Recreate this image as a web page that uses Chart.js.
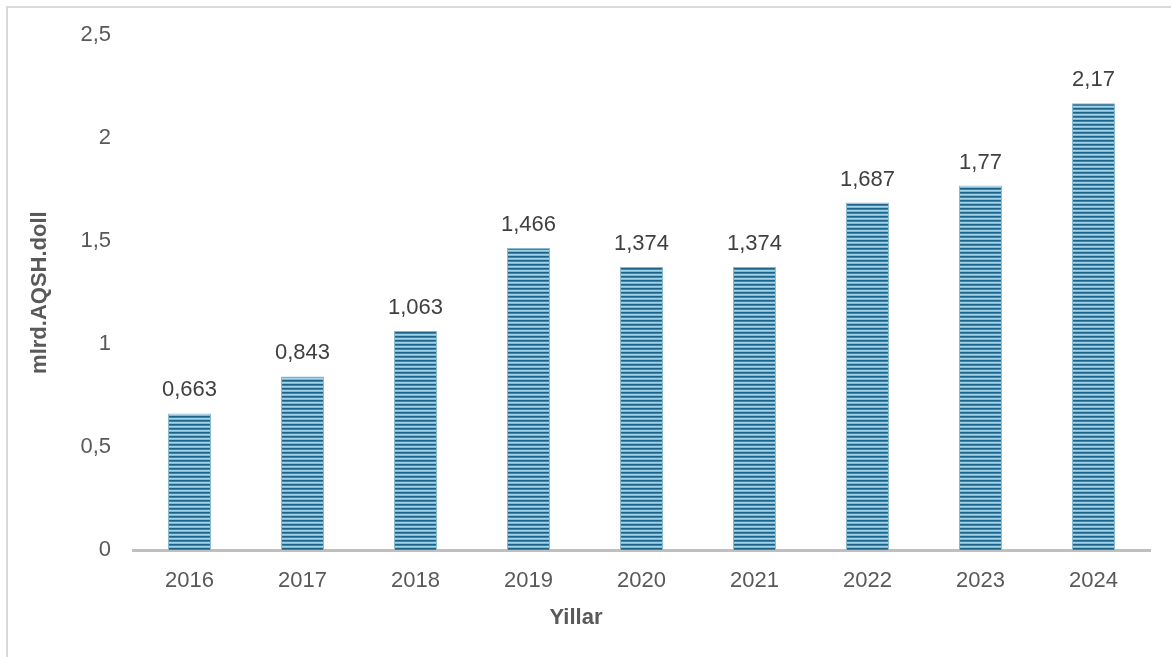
<!DOCTYPE html>
<html>
<head>
<meta charset="utf-8">
<script src="https://cdn.jsdelivr.net/npm/chart.js@4.4.1/dist/chart.umd.min.js"></script>
<style>
    body { margin: 0; background: #fff; }
    #frame {
        position: absolute; left: 6px; top: 6px; width: 1180px; height: 670px;
        border-left: 2px solid #d9d9d9; border-top: 2px solid #d9d9d9;
    }
    #wrap { position: absolute; left: 0; top: 0; width: 1171px; height: 657px; }
</style>
</head>
<body>
<div id="frame"></div>
<div id="wrap"><canvas id="chart"></canvas></div>
<script>
const years = ['2016', '2017', '2018', '2019', '2020', '2021', '2022', '2023', '2024'];
const values = [0.663, 0.843, 1.063, 1.466, 1.374, 1.374, 1.687, 1.77, 2.17];
const valueLabels = ['0,663', '0,843', '1,063', '1,466', '1,374', '1,374', '1,687', '1,77', '2,17'];
const xTitle = 'Yillar';
const yTitle = 'mlrd.AQSH.doll';

const FONT = '"Liberation Sans", Arial, sans-serif';

function stripePattern() {
    const c = document.createElement('canvas');
    c.width = 4;
    c.height = 4;
    const g = c.getContext('2d');
    const rows = ['#1b6389', '#3b85ab', '#a3d3e8', '#7cbad6'];
    rows.forEach((col, i) => {
        g.fillStyle = col;
        g.fillRect(0, i, 4, 1);
    });
    return g.createPattern(c, 'repeat');
}

// labels above the bars + x axis title (sits a bit left of the plot centre)
const barLabels = {
    id: 'barLabels',
    afterDatasetsDraw(chart) {
        const ctx = chart.ctx;
        const meta = chart.getDatasetMeta(0);
        ctx.save();
        ctx.font = '22px ' + FONT;
        ctx.fillStyle = '#404040';
        ctx.textAlign = 'center';
        ctx.textBaseline = 'alphabetic';
        meta.data.forEach((bar, i) => {
            ctx.fillText(valueLabels[i], bar.x, bar.y - 17);
        });
        ctx.font = 'bold 22px ' + FONT;
        ctx.fillStyle = '#595959';
        ctx.textBaseline = 'middle';
        ctx.fillText(xTitle, 576, 618);
        ctx.restore();
    }
};

const ctx = document.getElementById('chart').getContext('2d');
new Chart(ctx, {
    type: 'bar',
    data: {
        labels: years,
        datasets: [{
            data: values,
            backgroundColor: stripePattern(),
            borderColor: '#86b8ce',
            borderWidth: { left: 1, right: 1, top: 1, bottom: 0 },
            borderSkipped: false,
            categoryPercentage: 1,
            barPercentage: 0.38
        }]
    },
    options: {
        responsive: true,
        maintainAspectRatio: false,
        animation: false,
        layout: { padding: { top: 35, right: 21, left: 0, bottom: 0 } },
        plugins: {
            legend: { display: false },
            tooltip: { enabled: false }
        },
        scales: {
            x: {
                grid: { display: false, drawTicks: false },
                border: { display: true, color: '#bfbfbf', width: 3 },
                ticks: { color: '#595959', font: { family: FONT, size: 22 }, padding: 18 },
                afterFit(scale) { scale.height = 107; }
            },
            y: {
                min: 0,
                max: 2.5,
                grid: { display: false, drawTicks: false },
                border: { display: false },
                ticks: {
                    stepSize: 0.5,
                    color: '#595959',
                    font: { family: FONT, size: 22 },
                    padding: 22,
                    callback: v => String(v).replace('.', ',')
                },
                title: {
                    display: true,
                    text: yTitle,
                    color: '#595959',
                    font: { family: FONT, size: 22, weight: 'bold' },
                    padding: { top: 27, bottom: 10 }
                },
                afterFit(scale) { scale.width = 133; }
            }
        }
    },
    plugins: [barLabels]
});
</script>
</body>
</html>
